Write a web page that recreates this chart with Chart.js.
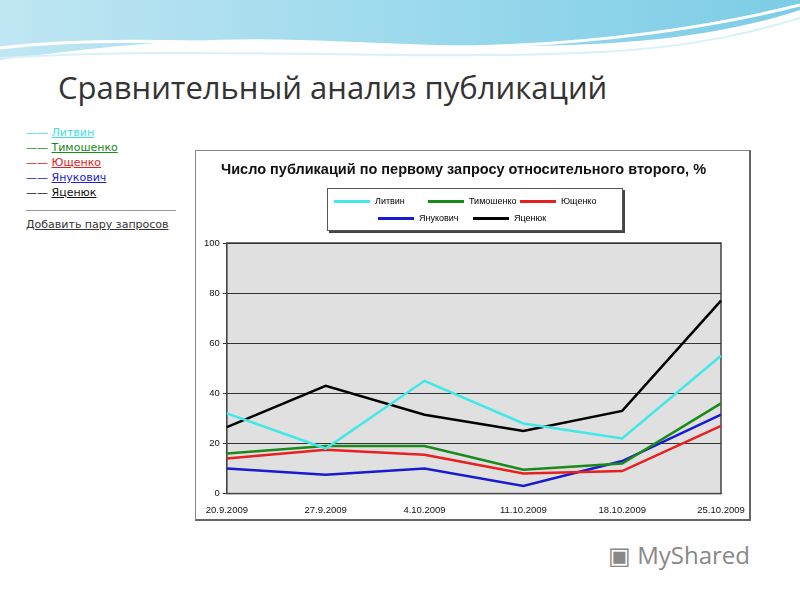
<!DOCTYPE html>
<html><head><meta charset="utf-8">
<script src="https://cdn.jsdelivr.net/npm/chart.js@4"></script>
<style>
body{margin:0;width:800px;height:600px;position:relative;overflow:hidden;background:#fff;font-family:"DejaVu Sans",sans-serif}
#wave{position:absolute;left:0;top:0}
#title{position:absolute;left:58px;top:66px;font-family:"Open Sans",sans-serif;font-size:31px;color:#333}
#side{position:absolute;left:26px;top:125px;font-size:11px;line-height:15px}
#side a{text-decoration:underline}
#box{position:absolute;left:195px;top:150px;width:553px;height:368px;border:1px solid #888;border-right:2px solid #666;border-bottom:2px solid #666;background:#fff}
#ct{position:absolute;left:25px;top:10px;font-family:"Liberation Sans",Arial,sans-serif;font-weight:bold;font-size:14.5px;color:#111}
#lg{position:absolute;left:131px;top:37px;width:294px;height:41px;border:1px solid #555;box-shadow:2px 2px 0 #444;font-family:"Liberation Sans",Arial,sans-serif;font-size:9px}
.li{position:absolute;display:flex;align-items:center}
.li span{display:inline-block;width:36px;height:3px;margin-right:5px}
#c{position:absolute;left:0;top:0}
#logo{position:absolute;left:608px;top:538px;font-family:"Open Sans",sans-serif;font-size:24px;color:#888}
</style></head><body>
<svg id="wave" width="800" height="120">
<defs><linearGradient id="g" x1="0" x2="1"><stop offset="0" stop-color="#bfe6f3"/><stop offset="1" stop-color="#7ccde6"/></linearGradient></defs>
<path d="M0 0 H800 V10 C650 60 450 45 300 40 C180 36 80 50 0 60 Z" fill="url(#g)"/>
<path d="M0 48 C150 30 350 55 520 45 C650 38 740 20 800 5" stroke="#fff" stroke-width="3" fill="none"/>
<path d="M0 58 C200 45 400 62 600 52 C700 47 760 30 800 18" stroke="#d8f0f8" stroke-width="2" fill="none"/>
</svg>
<div id="title">Сравнительный анализ публикаций</div>
<div id="side">
<div><span style="color:#40e0e0">—— </span><a style="color:#40e0e0">Литвин</a></div>
<div><span style="color:#1a8a1a">—— </span><a style="color:#1a8a1a">Тимошенко</a></div>
<div><span style="color:#e02020">—— </span><a style="color:#e02020">Ющенко</a></div>
<div><span style="color:#2020d0">—— </span><a style="color:#2020d0">Янукович</a></div>
<div><span style="color:#111">—— </span><a style="color:#111">Яценюк</a></div>
<div style="border-top:1px solid #999;width:150px;margin-top:10px;padding-top:6px"><a style="color:#333">Добавить пару запросов</a></div>
</div>
<div id="box"><canvas id="c" width="553" height="368"></canvas>
<div id="ct">Число публикаций по первому запросу относительного второго, %</div>
<div id="lg"></div>
</div>
<div id="logo">▣ MyShared</div>
<script>
const labels=["20.9.2009","27.9.2009","4.10.2009","11.10.2009","18.10.2009","25.10.2009"];
const names=["Литвин","Тимошенко","Ющенко","Янукович","Яценюк"];
const colors=["#40e8e8","#1a8a1a","#e82020","#1a1ad0","#000000"];
const litvin=[32,18,45,28,22,55];
const timoshenko=[16,19,19,9.5,12,36];
const yushchenko=[14,17.5,15.5,8,9,27];
const yanukovych=[10,7.5,10,3,13,31.5];
const yatsenyuk=[26.5,43,31.5,25,33,77];
const series=[litvin,timoshenko,yushchenko,yanukovych,yatsenyuk];
const pos=[[6,7],[100,7],[192,7],[50,24],[145,24]];
const lg=document.getElementById('lg');
names.forEach((n,i)=>{const d=document.createElement('div');d.className='li';d.style.left=pos[i][0]+'px';d.style.top=pos[i][1]+'px';d.innerHTML='<span style="background:'+colors[i]+'"></span>'+n;lg.appendChild(d);});
const bg={id:'bg',beforeDraw(c){const a=c.chartArea,x=c.ctx;x.save();x.fillStyle='#e0e0e0';x.fillRect(a.left,a.top,a.width,a.height);x.strokeStyle='#444';x.lineWidth=1.5;x.strokeRect(a.left,a.top,a.width,a.height);x.restore();}};
new Chart(document.getElementById('c'),{type:'line',
data:{labels,datasets:names.map((n,i)=>({label:n,data:series[i],borderColor:colors[i],borderWidth:2.5,pointRadius:0,tension:0}))},
options:{responsive:false,animation:false,layout:{padding:{top:92,right:28,left:5,bottom:0}},
plugins:{legend:{display:false},tooltip:{enabled:false}},
scales:{x:{offset:false,grid:{display:false},border:{color:'#444'},ticks:{color:'#111',font:{size:9.5,family:'Liberation Sans'},maxRotation:0,autoSkip:false}},
y:{min:0,max:100,ticks:{stepSize:20,color:'#111',font:{size:9.5,family:'Liberation Sans'}},grid:{color:'#333',drawTicks:true,tickLength:4},border:{color:'#444'}}}}
,plugins:[bg]});
</script>
</body></html>
